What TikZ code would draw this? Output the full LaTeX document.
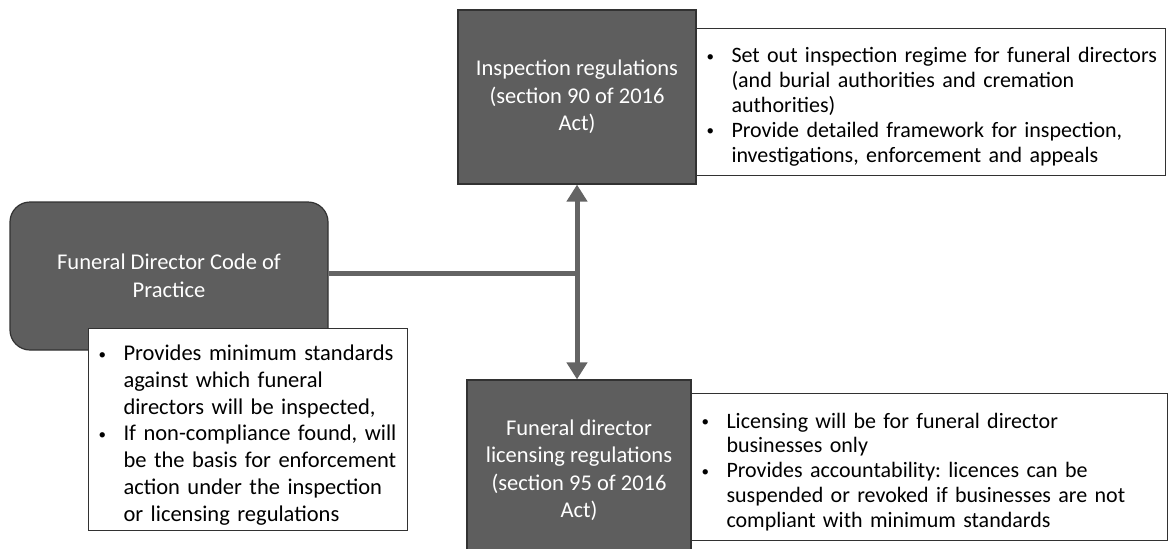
\documentclass[tikz,border=0pt]{standalone}
\usepackage{fontspec}
\setmainfont{Carlito}
\usetikzlibrary{arrows.meta}
\definecolor{boxgray}{RGB}{94,94,94}
\definecolor{edgegray}{RGB}{50,50,50}
\definecolor{linkgray}{RGB}{100,100,100}
\frenchspacing
\newcommand{\bulletline}[1]{\par\noindent\raggedright\leftskip=10pt\hyphenpenalty=10000\exhyphenpenalty=10000\hangindent=25pt\hangafter=1\makebox[25pt][l]{\raisebox{1.5pt}{\fontsize{15}{15}\selectfont\textbullet}}#1\par}
\begin{document}
\begin{tikzpicture}[x=1pt, y=-1pt,
    darkbox/.style={draw=edgegray, line width=1.2pt, fill=boxgray, text=white, align=center, inner sep=0pt, font=\fontsize{22.5}{27.5}\selectfont},
    notebox/.style={draw=edgegray, line width=1pt, fill=white, anchor=north west, inner sep=0pt, align=left, font=\fontsize{22}{24.8}\selectfont},
    link/.style={draw=linkgray, line width=5pt}]
    \useasboundingbox (0,0) rectangle (1168,549);
    \node [darkbox, rounded corners=20pt, minimum width=318pt, minimum height=148pt] (code) at (169,276) {Funeral Director Code of\\Practice};
    \node [notebox, text width=319pt, minimum height=202pt, font=\fontsize{22.5}{26.7}\selectfont] (codenote) at (88,328) {%
        \bulletline{Provides minimum standards against which funeral directors will be inspected,}%
        \bulletline{If non-compliance found, will be the basis for enforcement action under the inspection or licensing regulations}};
    \node [notebox, text width=469pt, minimum height=147pt] (inspnote) at (696,28) {%
        \bulletline{Set out inspection regime for funeral directors (and burial authorities and cremation authorities)}%
        \bulletline{Provide detailed framework for inspection, investigations, enforcement and appeals}};
    \node [darkbox, minimum width=238pt, minimum height=174pt] (insp) at (577,97) {Inspection regulations\\(section 90 of 2016\\Act)};
    \node [notebox, text width=476pt, minimum height=147pt] (licnote) at (691,393) {%
        \bulletline{Licensing will be for funeral director\newline businesses only}%
        \bulletline{Provides accountability: licences can be suspended or revoked if businesses are not compliant with minimum standards}};
    \node [darkbox, minimum width=224pt, minimum height=180pt] (lic) at (579,470) {Funeral director\\licensing regulations\\(section 95 of 2016\\Act)};
    \coordinate (junction) at (insp.south |- 0,273);
    \draw [link] (code.east |- junction) -- (junction);
    \draw [link, {Triangle[width=20pt,length=17pt]}-{Triangle[width=20pt,length=17pt]}] (insp.south) -- (insp.south |- lic.north);
\end{tikzpicture}
\end{document}
